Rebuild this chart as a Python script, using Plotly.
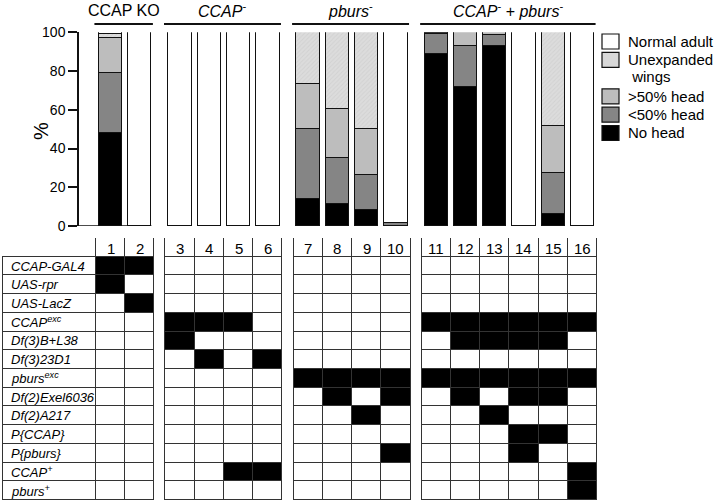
import plotly.graph_objects as go

# ---------------- data ----------------
GROUP_TITLES = ["CCAP KO", "<i>CCAP</i><sup>-</sup>", "<i>pburs</i><sup>-</sup>",
                "<i>CCAP</i><sup>-</sup> + <i>pburs</i><sup>-</sup>"]
GROUP_SIZES = [2, 4, 4, 6]
COLUMN_NUMBERS = [str(i) for i in range(1, 17)]

CATEGORIES = ["No head", "<50% head", ">50% head", "Unexpanded<br>\u00a0wings", "Normal adult"]
NO_HEAD = [48, 0, 0, 0, 0, 0, 14, 11, 8, 0, 88.5, 71.5, 93, 0, 6, 0]
LT50_HEAD = [31, 0, 0, 0, 0, 0, 36, 24, 18, 1.5, 10.5, 21.5, 5.5, 0, 21, 0]
GT50_HEAD = [18, 0, 0, 0, 0, 0, 23, 25, 24, 0, 0.5, 7, 1.5, 0, 24.5, 0]
UNEXPANDED = [2, 0, 0, 0, 0, 0, 27, 40, 50, 0, 0.5, 0, 0, 0, 48.5, 0]
NORMAL = [1, 100, 100, 100, 100, 100, 0, 0, 0, 98.5, 0, 0, 0, 100, 0, 100]

ROW_LABELS = ["CCAP-GAL4", "UAS-rpr", "UAS-LacZ", "CCAP<sup>exc</sup>", "Df(3)B+L38",
              "Df(3)23D1", "pburs<sup>exc</sup>", "Df(2)Exel6036", "Df(2)A217",
              "P{CCAP}", "P{pburs}", "CCAP<sup>+</sup>", "pburs<sup>+</sup>"]
ROW_FILLED = [[1, 2], [1], [2], [3, 4, 5, 11, 12, 13, 14, 15, 16], [3, 12, 13, 14, 15],
              [4, 6], [7, 8, 9, 10, 11, 12, 13, 14, 15, 16], [8, 10, 12, 14, 15],
              [9, 13], [14, 15], [10, 14], [5, 6, 16], [16]]

# ---------------- layout helpers ----------------
FONT = "Arial, Liberation Sans, sans-serif"
W, H = 720, 504
GAP = 0.38
PX = 29.24          # pixels per column unit
X0 = 110.5          # pixel of column 1 centre

pos = []
grp_of = []
for g, n in enumerate(GROUP_SIZES):
    start = sum(GROUP_SIZES[:g])
    for i in range(n):
        pos.append(start + i + g * GAP)
        grp_of.append(g)

xr = [-X0 / PX, (W - X0) / PX]

fig = go.Figure()

series = [NO_HEAD, LT50_HEAD, GT50_HEAD, UNEXPANDED, NORMAL]
fills = ["#000000", "#858585", "#bdbdbd", "#d8d8d8", "#ffffff"]
for name, vals, col in zip(CATEGORIES, series, fills):
    marker = dict(color=col, line=dict(color="#111", width=1.5))
    if name.startswith("Unexpanded"):
        marker["pattern"] = dict(shape="/", fgcolor="#c6c6c6", bgcolor="#dcdcdc",
                                 size=3, solidity=0.3)
    fig.add_trace(go.Bar(x=pos, y=vals, width=0.8, name=name, marker=marker,
                         showlegend=False, xaxis="x", yaxis="y", hoverinfo="skip"))

# ---------------- table ----------------
label_left = -3.68
label_right = -0.5
bx, bb, wx, wb = [], [], [], []
for r, filled in enumerate(ROW_FILLED):
    for c, p in enumerate(pos):
        if (c + 1) in filled:
            bx.append(p); bb.append(r + 1)
        else:
            wx.append(p); wb.append(r + 1)
hx = list(pos)
hb = [0] * len(pos)

cell_line = dict(color="#333", width=1)
fig.add_trace(go.Bar(x=wx + hx, base=wb + hb, y=[1] * (len(wx) + len(hx)), width=1.0,
                     marker=dict(color="white", line=cell_line), showlegend=False,
                     xaxis="x", yaxis="y2", hoverinfo="skip"))
fig.add_trace(go.Bar(x=bx, base=bb, y=[1] * len(bx), width=1.0,
                     marker=dict(color="black", line=cell_line), showlegend=False,
                     xaxis="x", yaxis="y2", hoverinfo="skip"))
nrows = len(ROW_LABELS)
fig.add_trace(go.Bar(x=[(label_left + label_right) / 2] * nrows,
                     base=[r + 1 for r in range(nrows)], y=[1] * nrows,
                     width=label_right - label_left,
                     marker=dict(color="white", line=cell_line), showlegend=False,
                     xaxis="x", yaxis="y2", hoverinfo="skip"))

annotations = []
for r, lab in enumerate(ROW_LABELS):
    annotations.append(dict(x=label_left + 0.2, y=r + 1.5, xref="x", yref="y2",
                            text="<i>" + lab + "</i>", showarrow=False, xanchor="left",
                            yanchor="middle", font=dict(family=FONT, size=13, color="black")))
for p, t in zip(pos, COLUMN_NUMBERS):
    annotations.append(dict(x=p, y=0.55, xref="x", yref="y2", text=t, showarrow=False,
                            xanchor="center", yanchor="middle",
                            font=dict(family=FONT, size=15, color="black")))

shapes = []
for g, title in enumerate(GROUP_TITLES):
    ps = [p for p, gg in zip(pos, grp_of) if gg == g]
    x_a, x_b = ps[0] - 0.55, ps[-1] + 0.45
    shapes.append(dict(type="line", xref="x", yref="paper", x0=x_a, x1=x_b,
                       y0=1 - 24 / H, y1=1 - 24 / H, line=dict(color="#111", width=2)))
    annotations.append(dict(x=(x_a + x_b) / 2, y=1 - 10 / H, xref="x", yref="paper",
                            text=title, showarrow=False, xanchor="center", yanchor="middle",
                            font=dict(family=FONT, size=16, color="black")))

# short baseline under the first group
first = [p for p, gg in zip(pos, grp_of) if gg == 0]
shapes.append(dict(type="line", xref="x", yref="y", x0=(78 - X0) / PX, x1=first[-1] + 0.4,
                   y0=0, y1=0, line=dict(color="#111", width=1.5)))

annotations.append(dict(x=28 / W, y=1 - 120 / H, xref="paper", yref="paper", text="%",
                        textangle=-90, showarrow=False,
                        font=dict(family=FONT, size=20, color="black")))

# ---------------- legend (drawn in paper space) ----------------
LINE_PITCH = 18.3
line_idx = 0
for name, col in reversed(list(zip(CATEGORIES, fills))):
    top = 34 + line_idx * LINE_PITCH
    shapes.append(dict(type="rect", xref="paper", yref="paper",
                       x0=602 / W, x1=619 / W, y0=1 - top / H, y1=1 - (top + 15) / H,
                       fillcolor=col, line=dict(color="#111", width=1.2)))
    parts = name.split("<br>")
    for k, part in enumerate(parts):
        annotations.append(dict(x=626 / W, y=1 - (top + 7.5 + k * 17) / H, xref="paper",
                                yref="paper", text=part.replace("<", "&lt;"),
                                showarrow=False, xanchor="left", yanchor="middle",
                                font=dict(family=FONT, size=15, color="black")))
    line_idx += len(parts)

fig.update_layout(
    width=W, height=H,
    margin=dict(l=0, r=0, t=0, b=0, pad=0),
    paper_bgcolor="white", plot_bgcolor="white",
    barmode="stack", bargap=0, showlegend=False,
    font=dict(family=FONT, color="black"),
    xaxis=dict(domain=[0, 1], range=xr, visible=False, fixedrange=True, automargin=False),
    yaxis=dict(domain=[1 - 226 / H, 1 - 32.3 / H], range=[0, 100], anchor="free",
               position=78 / W, tickvals=[0, 20, 40, 60, 80, 100], ticks="outside",
               ticklen=9, tickwidth=1.5, tickcolor="#111", showline=True,
               linecolor="#111", linewidth=1.5, showgrid=False, zeroline=False,
               automargin=False, fixedrange=True,
               tickfont=dict(family=FONT, size=14, color="black")),
    yaxis2=dict(domain=[1 - 500 / H, 1 - 238 / H], range=[14, 0], visible=False,
                anchor="x", automargin=False, fixedrange=True),
    annotations=annotations, shapes=shapes,
)

fig.write_html("out.html", config={"displayModeBar": False},
               post_script="document.body.style.margin='0';document.body.style.overflow='hidden';")
